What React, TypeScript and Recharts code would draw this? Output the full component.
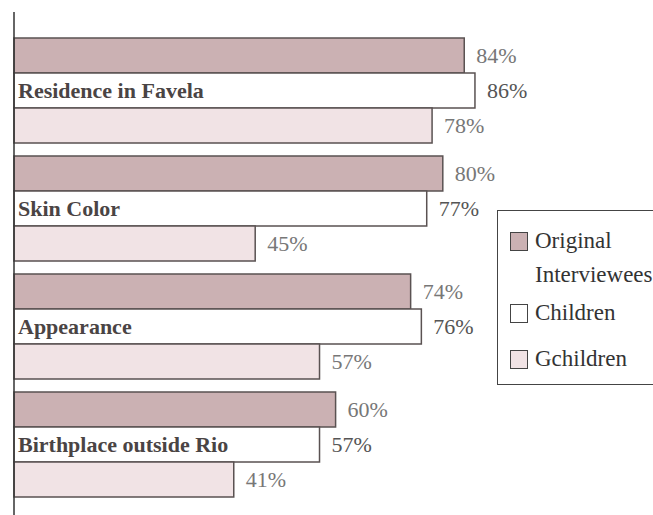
import React from 'react'
import { BarChart, Bar, XAxis, YAxis, LabelList } from 'recharts'

const categories = ['Residence in Favela', 'Skin Color', 'Appearance', 'Birthplace outside Rio']
const original = [84, 80, 74, 60]
const children = [86, 77, 76, 57]
const gchildren = [78, 45, 57, 41]

const seriesNames = ['Original Interviewees', 'Children', 'Gchildren']
const seriesFills = ['#cbb1b3', '#ffffff', '#f1e3e5']

const data = categories.map((name, i) => ({
  name,
  original: original[i],
  children: children[i],
  gchildren: gchildren[i],
}))

const FONT = '"Liberation Serif", "DejaVu Serif", serif'

const pct = (v: any) => `${v}%`

const CategoryLabel = (props: any) => {
  const { x, y, height, value } = props
  return (
    <text
      x={x + 4}
      y={y + height / 2}
      dominantBaseline="central"
      fontFamily={FONT}
      fontWeight="bold"
      fontSize={22}
      fill="#4a4444"
    >
      {value}
    </text>
  )
}

// legend drawn as plain html next to the chart, so it doesn't eat plot space
const LegendBox = () => (
  <div
    style={{
      position: 'absolute',
      left: 497,
      top: 210,
      borderTop: '1.5px solid #444',
      borderLeft: '1.5px solid #444',
      borderBottom: '1.5px solid #444',
      width: 170,
      height: 175,
      boxSizing: 'border-box',
      padding: '13px 0 0 12px',
      fontFamily: FONT,
      fontSize: 23,
      color: '#333',
      lineHeight: '34px',
    }}
  >
    {seriesNames.map((n, i) => (
      <div key={n} style={{ display: 'flex', alignItems: 'flex-start', marginBottom: i === 0 ? 4 : 12 }}>
        <span
          style={{
            display: 'inline-block',
            width: 16,
            height: 17,
            border: '1.5px solid #444',
            background: seriesFills[i],
            marginTop: 8,
            marginRight: 7,
            flexShrink: 0,
          }}
        />
        <span>{i === 0 ? <>Original<br />Interviewees</> : n}</span>
      </div>
    ))}
  </div>
)

const App: React.FC = () => {
  return (
    <div style={{ position: 'absolute', left: 0, top: 0, width: 653, height: 515, overflow: 'hidden', background: '#fff' }}>
      <BarChart
        width={653}
        height={515}
        data={data}
        layout="vertical"
        margin={{ top: 12, right: 103, bottom: 0, left: 0 }}
        barCategoryGap={7}
        barGap={0}
      >
        <XAxis type="number" domain={[0, 100]} hide />
        <YAxis
          type="category"
          dataKey="name"
          width={14}
          tick={false}
          tickLine={false}
          axisLine={{ stroke: '#333', strokeWidth: 1.5 }}
          padding={{ top: 19, bottom: 12 }}
        />
        <Bar dataKey="original" name={seriesNames[0]} fill={seriesFills[0]} stroke="#5a5252" strokeWidth={1.5} isAnimationActive={false}>
          <LabelList dataKey="original" position="right" offset={12} formatter={pct} fontFamily={FONT} fontSize={22} fill="#777" />
        </Bar>
        <Bar dataKey="children" name={seriesNames[1]} fill={seriesFills[1]} stroke="#5a5252" strokeWidth={1.5} isAnimationActive={false}>
          <LabelList dataKey="name" content={CategoryLabel} />
          <LabelList dataKey="children" position="right" offset={12} formatter={pct} fontFamily={FONT} fontSize={22} fill="#555" />
        </Bar>
        <Bar dataKey="gchildren" name={seriesNames[2]} fill={seriesFills[2]} stroke="#5a5252" strokeWidth={1.5} isAnimationActive={false}>
          <LabelList dataKey="gchildren" position="right" offset={12} formatter={pct} fontFamily={FONT} fontSize={22} fill="#777" />
        </Bar>
      </BarChart>
      <LegendBox />
    </div>
  )
}

export default App
